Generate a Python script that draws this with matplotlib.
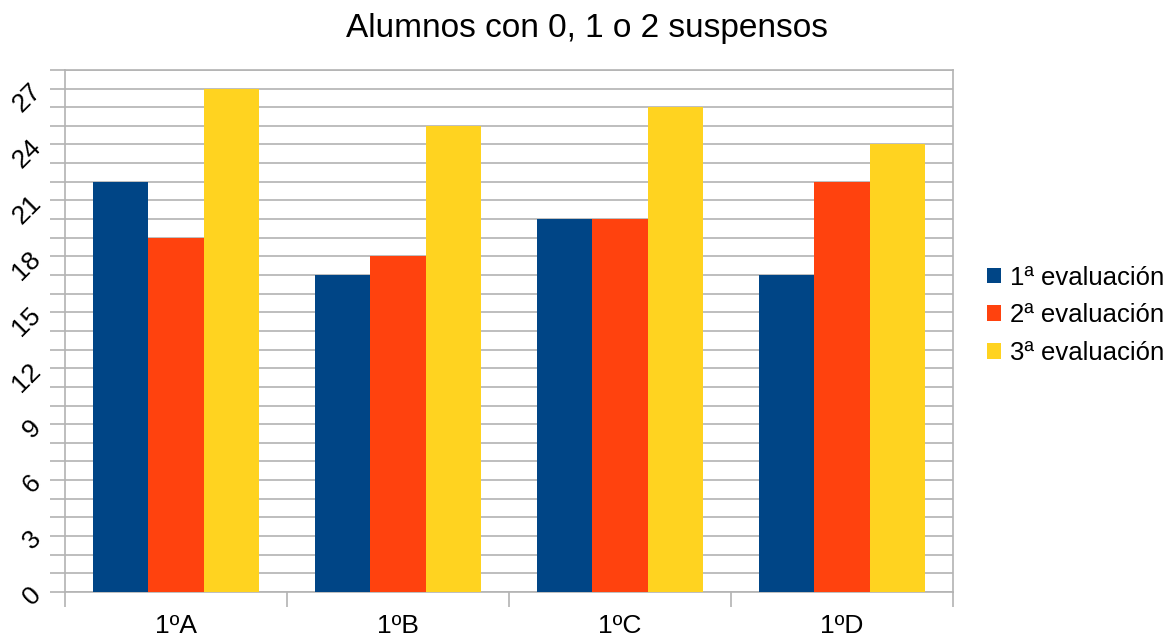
import numpy as np
import matplotlib.pyplot as plt
from matplotlib.ticker import MultipleLocator

# Datos
grupos = ["1ºA", "1ºB", "1ºC", "1ºD"]
eval1 = [22, 17, 20, 17]
eval2 = [19, 18, 20, 22]
eval3 = [27, 25, 26, 24]
series = ["1ª evaluación", "2ª evaluación", "3ª evaluación"]
colores = ["#004586", "#ff420e", "#ffd320"]

plt.rcParams["font.family"] = ["Liberation Sans", "DejaVu Sans"]
gris = "#b3b3b3"

fig = plt.figure(figsize=(11.73, 6.39), dpi=100)
ax = fig.add_axes([0.0554, 0.0736, 0.757, 0.817])

x = np.arange(len(grupos))
w = 0.25
for i, (vals, nombre) in enumerate(zip([eval1, eval2, eval3], series)):
    ax.bar(x + (i - 1) * w, vals, w, color=colores[i], label=nombre, zorder=3)

ax.set_xlim(-0.5, len(grupos) - 0.5)
ax.set_ylim(0, 28)
ax.yaxis.set_major_locator(MultipleLocator(3))
ax.yaxis.set_minor_locator(MultipleLocator(1))
ax.grid(axis="y", which="both", color=gris, linewidth=1.2, zorder=0)

ax.set_xticks(x)
ax.set_xticklabels(grupos, fontsize=19)
ax.set_xticks(np.arange(len(grupos) + 1) - 0.5, minor=True)
ax.tick_params(axis="x", which="major", length=0, pad=16)
ax.tick_params(axis="x", which="minor", length=11, color=gris, width=1.2)
ax.tick_params(axis="y", which="both", length=11, color=gris, width=1.2,
               labelsize=19, labelrotation=45, pad=3)

for s in ax.spines.values():
    s.set_color(gris)
    s.set_linewidth(1.2)

# Titulo centrado en la figura
fig.text(0.5, 1 - 37 / 639, "Alumnos con 0, 1 o 2 suspensos", fontsize=24,
         ha="center", va="baseline")

ax.legend(loc="center left", bbox_to_anchor=(1.0125, 0.53), frameon=False,
          fontsize=18.5, handlelength=0.55, handleheight=0.55,
          handletextpad=0.35, labelspacing=0.53)

fig.savefig("out.png", dpi=100)
